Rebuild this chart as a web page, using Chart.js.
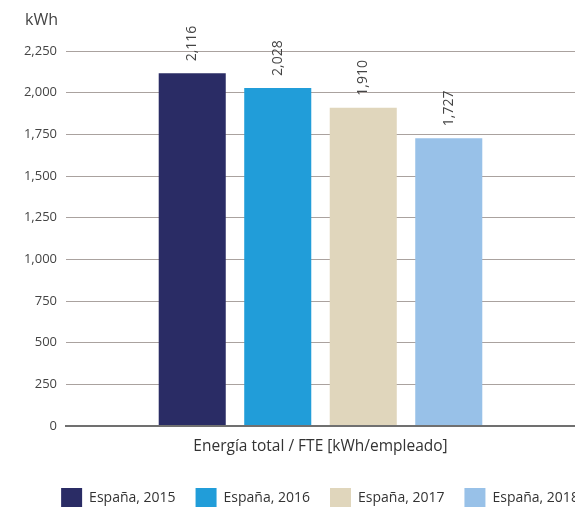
<!DOCTYPE html>
<html>
<head>
<meta charset="utf-8">
<script src="https://cdn.jsdelivr.net/npm/chart.js@4/dist/chart.umd.min.js"></script>
<style>
  html, body { margin: 0; padding: 0; overflow: hidden; background: #fff; }
  #wrap { width: 640px; height: 519px; }
</style>
</head>
<body>
<div id="wrap"><canvas id="c" width="640" height="519"></canvas></div>
<script>
const categories = ["Energía total / FTE [kWh/empleado]"];
const seriesNames = ["España, 2015", "España, 2016", "España, 2017", "España, 2018"];
const seriesValues = [2116, 2028, 1910, 1727];
const seriesColors = ["#2a2c65", "#219dd9", "#e0d6bc", "#98c1e8"];
const yTicks = [0, 250, 500, 750, 1000, 1250, 1500, 1750, 2000, 2250];
const unitLabel = "kWh";

const FONT = "'Open Sans', 'Noto Sans', sans-serif";
const fmt = v => Number(v).toLocaleString('en-US');

const datasets = seriesNames.map((name, i) => ({
  label: name,
  data: [seriesValues[i]],
  backgroundColor: seriesColors[i],
  borderWidth: 0,
  categoryPercentage: 0.672,
  barPercentage: 0.784,
  yAxisID: 'y'
}));

const labelPlugin = {
  id: 'barLabels',
  afterDatasetsDraw(chart) {
    const ctx = chart.ctx;
    ctx.save();
    ctx.font = "14px " + FONT;
    ctx.fillStyle = "#444";
    chart.data.datasets.forEach((ds, di) => {
      const meta = chart.getDatasetMeta(di);
      meta.data.forEach((el, j) => {
        ctx.save();
        ctx.translate(el.x, el.y - 12);
        ctx.rotate(-Math.PI / 2);
        ctx.textAlign = 'left';
        ctx.textBaseline = 'middle';
        ctx.fillText(fmt(ds.data[j]), 0, 0);
        ctx.restore();
      });
    });
    // unit label above the y axis
    const ys = chart.scales.y;
    ctx.font = "16px " + FONT;
    ctx.fillStyle = "#444";
    ctx.textAlign = 'right';
    ctx.textBaseline = 'middle';
    ctx.fillText(unitLabel, ys.right - 8, chart.chartArea.top - 31);
    ctx.restore();
  }
};

new Chart(document.getElementById('c'), {
  type: 'bar',
  data: { labels: categories, datasets },
  options: {
    responsive: false,
    animation: false,
    layout: { padding: { top: 51, left: 0, right: 0, bottom: 0 } },
    plugins: {
      legend: {
        position: 'bottom',
        labels: {
          boxWidth: 21,
          boxHeight: 21,
          padding: 20,
          color: '#333',
          font: { family: FONT, size: 14 }
        }
      },
      tooltip: { enabled: false },
      title: { display: false }
    },
    scales: {
      x: {
        grid: { display: false },
        border: { display: true, color: '#707070', width: 2 },
        ticks: { color: '#333', font: { family: FONT, size: 15.5 }, padding: 3 },
        afterFit(scale) { scale.height = 42; }
      },
      y: {
        min: 0,
        max: 2250,
        afterBuildTicks(scale) { scale.ticks = yTicks.map(v => ({ value: v })); },
        grid: {
          drawTicks: false,
          color: c => (c.tick && c.tick.value === 0) ? '#707070' : '#aaa29f',
          lineWidth: c => (c.tick && c.tick.value === 0) ? 2 : 1
        },
        border: { display: false },
        ticks: {
          color: '#444',
          font: { family: FONT, size: 13 },
          padding: 9,
          callback: v => fmt(v)
        },
        afterFit(scale) { scale.width = 66; }
      },
      y2: {
        position: 'right',
        display: true,
        grid: { display: false },
        border: { display: false },
        ticks: { display: false },
        afterFit(scale) { scale.width = 65; }
      }
    }
  },
  plugins: [labelPlugin]
});
</script>
</body>
</html>
